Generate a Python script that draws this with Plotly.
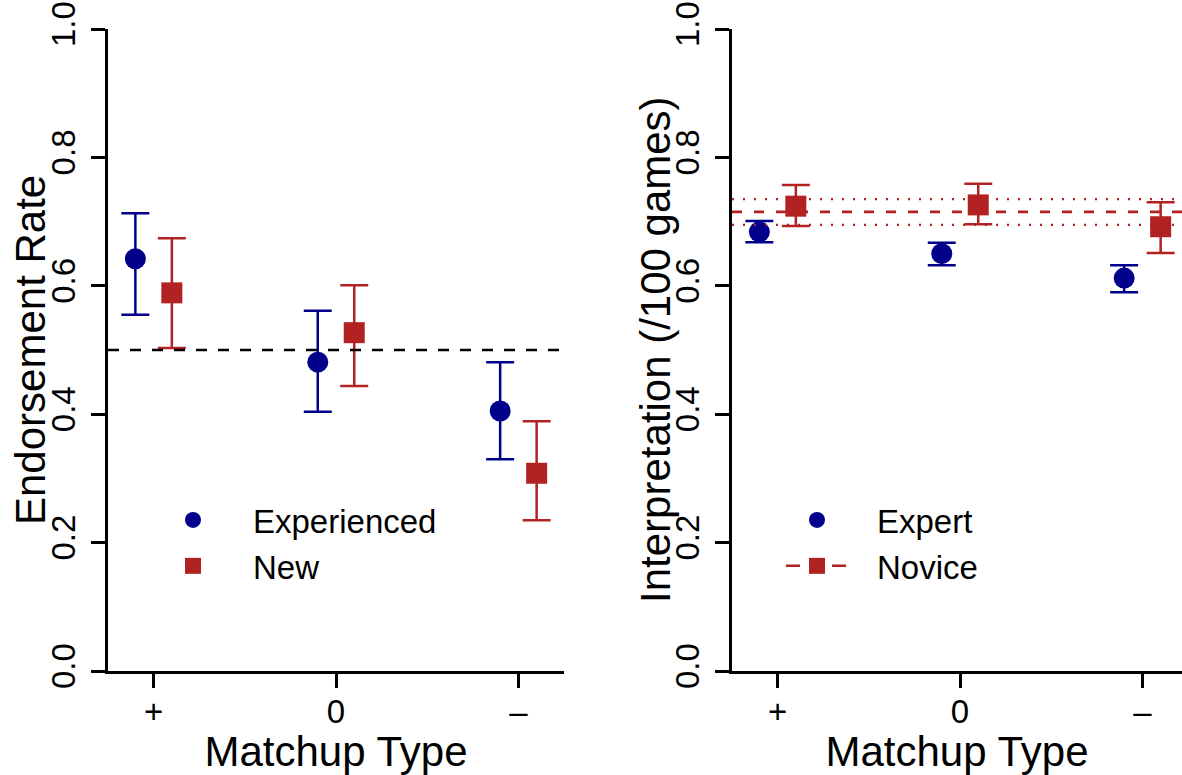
import plotly.graph_objects as go

# ---------------- data ----------------
categories = ["+", "0", "\u2013"]

# Left panel: Endorsement Rate
experienced_mean = [0.642, 0.481, 0.405]
experienced_low = [0.555, 0.404, 0.330]
experienced_high = [0.713, 0.561, 0.481]
new_mean = [0.589, 0.527, 0.308]
new_low = [0.503, 0.444, 0.235]
new_high = [0.674, 0.601, 0.389]
chance_level = 0.5

# Right panel: Interpretation (/100 games)
expert_mean = [0.684, 0.650, 0.612]
expert_low = [0.668, 0.632, 0.590]
expert_high = [0.701, 0.667, 0.632]
novice_mean = [0.724, 0.726, 0.692]
novice_low = [0.693, 0.696, 0.651]
novice_high = [0.757, 0.759, 0.730]
novice_overall = 0.715
novice_overall_low = 0.695
novice_overall_high = 0.735

y_ticks = [0.0, 0.2, 0.4, 0.6, 0.8, 1.0]
left_ylabel = "Endorsement Rate"
right_ylabel = "Interpretation (/100 games)"
xlabel = "Matchup Type"

# ---------------- style ----------------
BLUE = "#00008B"
RED = "#B22222"
FONT = "Liberation Sans, Arial, Helvetica, sans-serif"
W, H = 1182, 775
OFF = 0.1
pos = list(range(1, len(categories) + 1))
TICK_SIZE = 33
TITLE_SIZE = 42
LEG_SIZE = 33

fig = go.Figure()


def add_series(xaxis, yaxis, mean, low, high, color, symbol, sign):
    xs = [p + sign * OFF for p in pos]
    fig.add_trace(go.Scatter(
        x=xs, y=mean, mode="markers", xaxis=xaxis, yaxis=yaxis,
        showlegend=False, hoverinfo="skip",
        marker=dict(color=color, symbol=symbol, size=21, line=dict(width=0)),
        error_y=dict(type="data", symmetric=False,
                     array=[h - m for h, m in zip(high, mean)],
                     arrayminus=[m - l for m, l in zip(mean, low)],
                     color=color, thickness=2.5, width=14),
    ))


add_series("x", "y", experienced_mean, experienced_low, experienced_high, BLUE, "circle", -1)
add_series("x", "y", new_mean, new_low, new_high, RED, "square", 1)
add_series("x2", "y2", expert_mean, expert_low, expert_high, BLUE, "circle", -1)
add_series("x2", "y2", novice_mean, novice_low, novice_high, RED, "square", 1)

# legend entries
fig.add_trace(go.Scatter(x=[None], y=[None], mode="markers", name="Experienced",
                         marker=dict(color=BLUE, symbol="circle", size=21),
                         xaxis="x", yaxis="y", legend="legend"))
fig.add_trace(go.Scatter(x=[None], y=[None], mode="markers", name="New",
                         marker=dict(color=RED, symbol="square", size=21),
                         xaxis="x", yaxis="y", legend="legend"))
fig.add_trace(go.Scatter(x=[None], y=[None], mode="markers", name="Expert",
                         marker=dict(color=BLUE, symbol="circle", size=21),
                         xaxis="x2", yaxis="y2", legend="legend2"))
fig.add_trace(go.Scatter(x=[None], y=[None], mode="lines+markers", name="Novice",
                         marker=dict(color=RED, symbol="square", size=21),
                         line=dict(color=RED, dash="0px,24px,14px,32px,14px,300px", width=2.5),
                         xaxis="x2", yaxis="y2", legend="legend2"))

# reference lines
fig.add_shape(type="line", xref="x domain", yref="y", x0=0, x1=1,
              y0=chance_level, y1=chance_level, layer="above",
              line=dict(color="black", width=2.4, dash="11px,11px"))
fig.add_shape(type="line", xref="x2 domain", yref="y2", x0=0, x1=1,
              y0=novice_overall, y1=novice_overall, layer="above",
              line=dict(color=RED, width=2.8, dash="10px,12px"))
for v in (novice_overall_low, novice_overall_high):
    fig.add_shape(type="line", xref="x2 domain", yref="y2", x0=0, x1=1,
                  y0=v, y1=v, layer="above",
                  line=dict(color=RED, width=2.2, dash="2px,9px"))

# ---------------- layout ----------------
plot_top, plot_bottom = 29, 671
ydom = [(H - plot_bottom) / H, (H - plot_top) / H]
left_dom = [108 / W, 564 / W]
right_dom = [732 / W, 1.0]
px_per_unit = (564 - 108) / 2.5
right_max = 0.75 + (W - 732) / px_per_unit

common_x = dict(
    tickvals=pos, ticktext=categories, showline=True, linecolor="black",
    linewidth=2.5, ticks="outside", ticklen=14, tickwidth=2.5, tickcolor="black",
    showgrid=False, zeroline=False, tickfont=dict(size=TICK_SIZE, color="black"),
    title=dict(text=xlabel, font=dict(size=TITLE_SIZE, color="black"), standoff=9),
    ticklabelstandoff=-4, automargin=False,
)
common_y = dict(
    range=[0, 1], tickvals=y_ticks, tickformat=".1f", showline=True, linecolor="black",
    linewidth=2.5, ticks="outside", ticklen=14, tickwidth=2.5, tickcolor="black",
    showgrid=False, zeroline=False, tickfont=dict(size=TICK_SIZE, color="black"),
    tickangle=-90, ticklabelstandoff=3, automargin=False,
)

ymid = 1 - ((plot_top + plot_bottom) / 2) / H
for text, xc in ((left_ylabel, 30), (right_ylabel, 655)):
    fig.add_annotation(text=text, xref="paper", yref="paper", x=xc / W, y=ymid,
                       xanchor="center", yanchor="middle", textangle=-90,
                       showarrow=False, font=dict(size=TITLE_SIZE, color="black"))

fig.update_layout(
    width=W, height=H, margin=dict(l=0, r=0, t=0, b=0),
    paper_bgcolor="white", plot_bgcolor="white",
    font=dict(family=FONT, color="black"),
    xaxis=dict(domain=left_dom, range=[0.75, 3.25], anchor="y", **common_x),
    xaxis2=dict(domain=right_dom, range=[0.75, right_max], anchor="y2", **common_x),
    yaxis=dict(domain=ydom, anchor="x", **common_y),
    yaxis2=dict(domain=ydom, anchor="x2", **common_y),
    legend=dict(x=133 / W, y=(H - 492) / H, xanchor="left", yanchor="top",
                font=dict(size=LEG_SIZE), bgcolor="rgba(0,0,0,0)", itemwidth=110,
                itemsizing="trace", tracegroupgap=0),
    legend2=dict(x=757 / W, y=(H - 492) / H, xanchor="left", yanchor="top",
                 font=dict(size=LEG_SIZE), bgcolor="rgba(0,0,0,0)", itemwidth=110,
                 itemsizing="trace", tracegroupgap=0),
)

fig.write_html("out.html", config={"displayModeBar": False},
               post_script="document.body.style.margin='0';")
